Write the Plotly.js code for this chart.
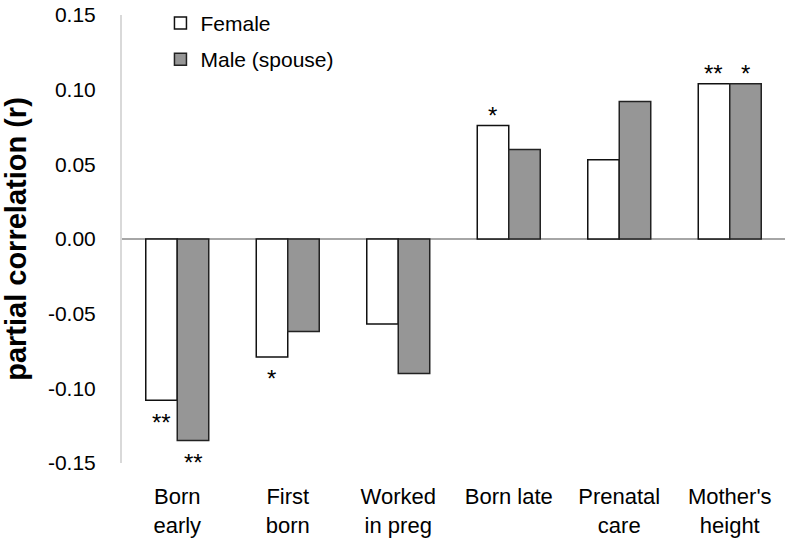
<!DOCTYPE html>
<html>
<head>
<meta charset="utf-8">
<script src="https://cdn.plot.ly/plotly-3.0.1.min.js"></script>
<style>html,body{margin:0;padding:0;background:#fff;}#chart{width:789px;height:547px;}</style>
</head>
<body>
<div id="chart"></div>
<script>
const categories = ["Born<br>early", "First<br>born", "Worked<br>in preg", "Born late", "Prenatal<br>care", "Mother's<br>height"];
const femaleValues = [-0.108, -0.079, -0.057, 0.076, 0.053, 0.104];
const maleValues = [-0.135, -0.062, -0.090, 0.060, 0.092, 0.104];
const femaleSig = ["**", "*", "", "*", "", "**"];
const maleSig = ["**", "", "", "", "", "*"];
const yTickVals = [-0.15, -0.10, -0.05, 0.00, 0.05, 0.10, 0.15];
const yTickText = ["-0.15", "-0.10", "-0.05", "0.00", "0.05", "0.10", "0.15"];

const FONT = "Liberation Sans, Arial, Helvetica, sans-serif";

const traces = [
  {
    type: "bar", name: "Female", x: categories, y: femaleValues,
    marker: {color: "#ffffff", line: {color: "#111111", width: 1.5}},
    legendgroup: "f"
  },
  {
    type: "bar", name: "Male (spouse)", x: categories, y: maleValues,
    marker: {color: "#969696", line: {color: "#222222", width: 1.5}},
    legendgroup: "m"
  }
];

const annotations = [];
function addSig(sigs, vals, xshift) {
  sigs.forEach((s, i) => {
    if (!s) return;
    const v = vals[i];
    annotations.push({
      x: categories[i], y: v, xref: "x", yref: "y", text: s, showarrow: false,
      xshift: xshift, yshift: v < 0 ? -22 : 10, yanchor: "middle",
      font: {family: FONT, size: 24, color: "#000"}
    });
  });
}
addSig(femaleSig, femaleValues, -16);
addSig(maleSig, maleValues, 16);

const layout = {
  width: 789, height: 547,
  margin: {l: 122, r: 4, t: 14, b: 84},
  paper_bgcolor: "#fff", plot_bgcolor: "#fff",
  font: {family: FONT, color: "#000"},
  barmode: "group", bargap: 0.43, bargroupgap: 0,
  showlegend: true,
  legend: {
    x: 0.058, y: 1.025, xanchor: "left", yanchor: "top",
    font: {family: FONT, size: 21, color: "#000"},
    traceorder: "grouped", tracegroupgap: 6,
    bgcolor: "rgba(0,0,0,0)"
  },
  xaxis: {
    type: "category", showline: false, ticks: "", showgrid: false, zeroline: false,
    tickfont: {family: FONT, size: 22, color: "#000"},
    ticklabelstandoff: 18, fixedrange: true
  },
  yaxis: {
    range: [-0.15, 0.15], tickvals: yTickVals, ticktext: yTickText,
    showgrid: false, showline: true, linecolor: "#d9d9d9", linewidth: 2,
    zeroline: true, zerolinecolor: "#a6a6a6", zerolinewidth: 1.5,
    ticks: "", tickfont: {family: FONT, size: 21, color: "#000"},
    ticklabelstandoff: 20,
    title: {text: "<b>partial correlation (r)</b>", font: {family: FONT, size: 29, color: "#000"}, standoff: 16}
  },
  annotations: annotations
};

Plotly.newPlot("chart", traces, layout, {displayModeBar: false, staticPlot: true});
</script>
</body>
</html>
